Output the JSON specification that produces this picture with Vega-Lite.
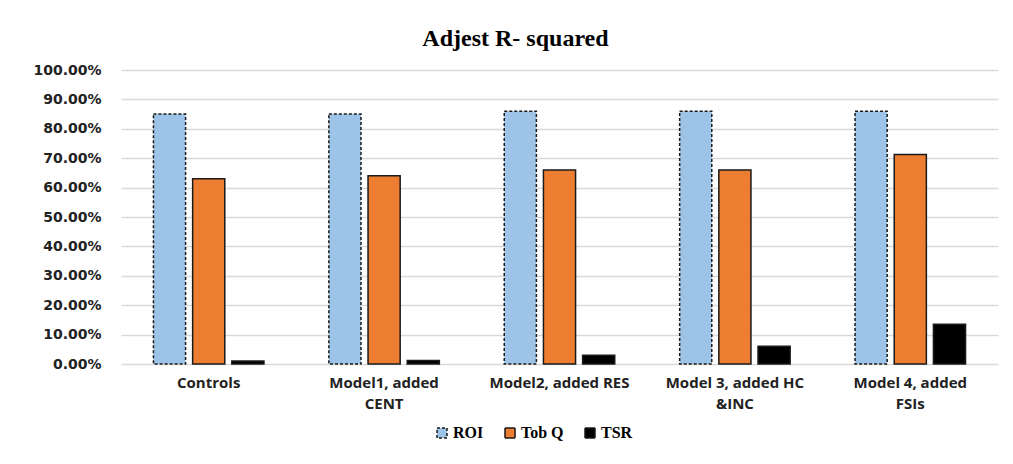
{
  "$schema": "https://vega.github.io/schema/vega-lite/v6.json",
  "width": 877,
  "height": 294,
  "padding": {"left": 32, "top": 27, "right": 12, "bottom": 10},
  "background": "white",
  "title": {
    "text": "Adjest R- squared",
    "font": "Liberation Serif",
    "fontSize": 24,
    "fontWeight": "bold",
    "color": "#000000",
    "anchor": "middle",
    "frame": "bounds",
    "offset": 12
  },
  "data": {
    "values": [
      {"model": "Controls", "series": "ROI", "value": 0.85},
      {"model": "Controls", "series": "Tob Q", "value": 0.63},
      {"model": "Controls", "series": "TSR", "value": 0.01},
      {"model": "Model1, added CENT", "series": "ROI", "value": 0.85},
      {"model": "Model1, added CENT", "series": "Tob Q", "value": 0.64},
      {"model": "Model1, added CENT", "series": "TSR", "value": 0.012},
      {"model": "Model2, added RES", "series": "ROI", "value": 0.86},
      {"model": "Model2, added RES", "series": "Tob Q", "value": 0.66},
      {"model": "Model2, added RES", "series": "TSR", "value": 0.03},
      {"model": "Model 3, added HC &INC", "series": "ROI", "value": 0.86},
      {"model": "Model 3, added HC &INC", "series": "Tob Q", "value": 0.66},
      {"model": "Model 3, added HC &INC", "series": "TSR", "value": 0.06},
      {"model": "Model 4, added FSIs", "series": "ROI", "value": 0.86},
      {"model": "Model 4, added FSIs", "series": "Tob Q", "value": 0.713},
      {"model": "Model 4, added FSIs", "series": "TSR", "value": 0.135}
    ]
  },
  "mark": {"type": "bar", "stroke": "#1a1a1a", "strokeWidth": 1.5},
  "encoding": {
    "x": {
      "field": "model",
      "type": "nominal",
      "sort": null,
      "scale": {"paddingInner": 0.37, "paddingOuter": 0.185},
      "axis": {
        "title": null,
        "labelAngle": 0,
        "labelFont": "Open Sans",
        "labelFontSize": 15,
        "labelFontWeight": "bold",
        "labelColor": "#222222",
        "labelPadding": 11,
        "labelLineHeight": 21,
        "labelLimit": 220,
        "ticks": false,
        "domain": false,
        "labelExpr": "datum.value == 'Model1, added CENT' ? ['Model1, added', 'CENT'] : datum.value == 'Model 3, added HC &INC' ? ['Model 3, added HC', '&INC'] : datum.value == 'Model 4, added FSIs' ? ['Model 4, added', 'FSIs'] : datum.value"
      }
    },
    "xOffset": {
      "field": "series",
      "type": "nominal",
      "sort": ["ROI", "Tob Q", "TSR"],
      "scale": {"paddingInner": 0.18, "paddingOuter": 0}
    },
    "y": {
      "field": "value",
      "type": "quantitative",
      "scale": {"domain": [0, 1]},
      "axis": {
        "title": null,
        "format": ".2%",
        "tickCount": 10,
        "labelFont": "DejaVu Sans",
        "labelFontSize": 14,
        "labelFontWeight": "bold",
        "labelColor": "#222222",
        "labelPadding": 20,
        "ticks": false,
        "domain": false,
        "gridColor": "#d9d9d9",
        "gridWidth": 1.5
      }
    },
    "fill": {
      "field": "series",
      "type": "nominal",
      "sort": ["ROI", "Tob Q", "TSR"],
      "scale": {"domain": ["ROI", "Tob Q", "TSR"], "range": ["#9dc3e6", "#ed7d31", "#000000"]},
      "legend": {
        "title": null,
        "orient": "none",
        "direction": "horizontal",
        "legendX": 313,
        "legendY": 355,
        "symbolType": "square",
        "symbolSize": 100,
        "symbolStrokeColor": "#1a1a1a",
        "symbolStrokeWidth": 1.5,
        "labelFont": "Liberation Serif",
        "labelFontSize": 16,
        "labelFontWeight": "bold",
        "labelColor": "#000000",
        "columnPadding": 18,
        "labelOffset": 3
      }
    },
    "strokeDash": {
      "field": "series",
      "type": "nominal",
      "sort": ["ROI", "Tob Q", "TSR"],
      "scale": {"domain": ["ROI", "Tob Q", "TSR"], "range": [[3, 2], [1, 0], [1, 0]]},
      "legend": null
    }
  },
  "config": {"view": {"stroke": null}}
}
